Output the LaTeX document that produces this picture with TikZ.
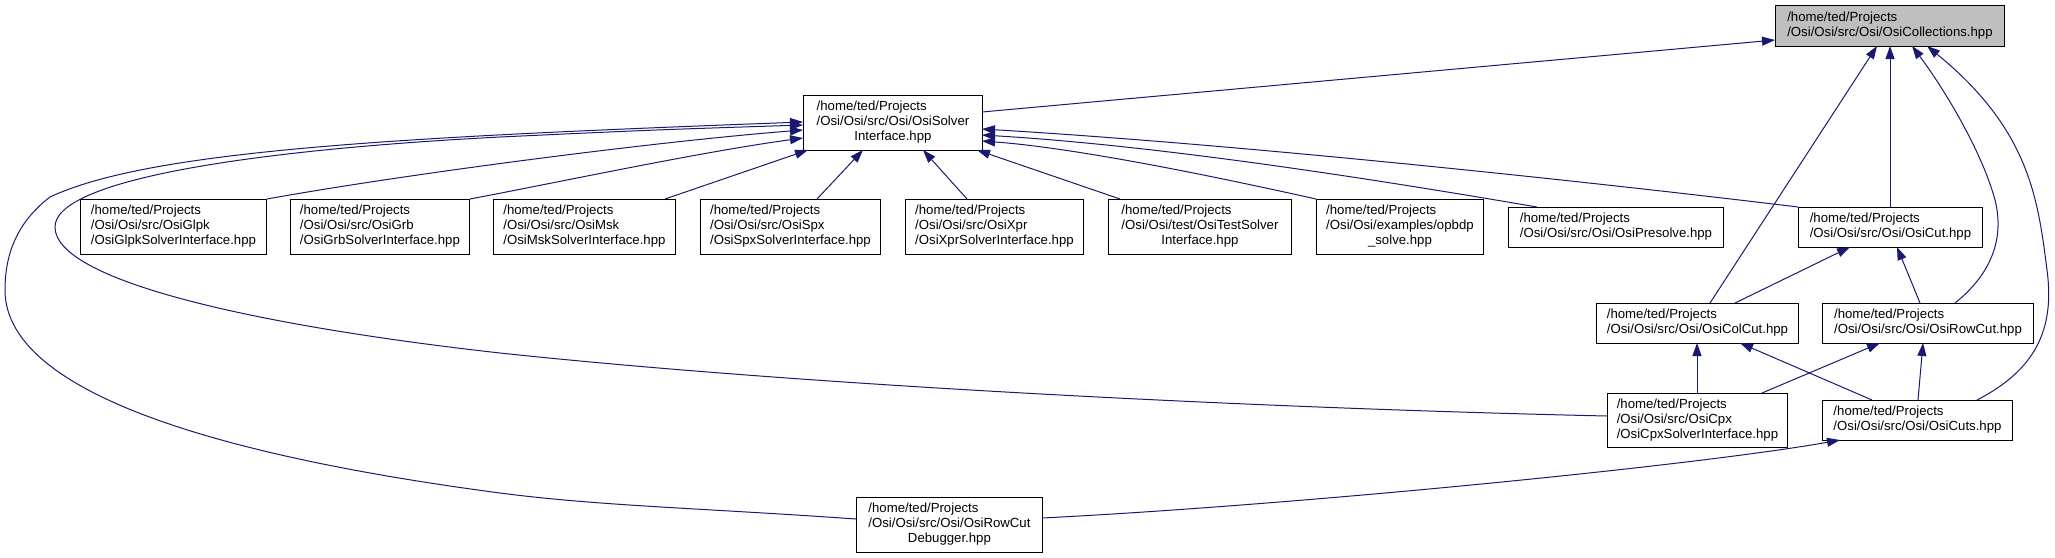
\documentclass[tikz,border=0pt]{standalone}
\usepackage{fontspec}
\setmainfont{Liberation Sans}
\usetikzlibrary{arrows.meta,calc}
\definecolor{edgeblue}{HTML}{191970}
\definecolor{rootgray}{HTML}{BFBFBF}
\newcommand{\filelines}[1]{\begin{tabular}{@{}l@{}}#1\end{tabular}}
\newcommand{\lastcentered}[1]{\multicolumn{1}{@{}c@{}}{#1}}
\begin{document}
\begin{tikzpicture}[x=1pt,y=-1pt,
  file/.style={draw=black, line width=0.9pt, fill=white, inner sep=0pt, anchor=north west,
    font=\fontsize{13.2}{15}\selectfont},
  rootfile/.style={file, fill=rootgray},
  edge/.style={draw=edgeblue, line width=1pt, -{Triangle[length=13pt,width=9pt]}}]
\useasboundingbox (0,0) rectangle (2055,557);
% nodes
\node[rootfile, minimum width=229pt, minimum height=41pt] (coll) at (1775,5)
  {\filelines{/home/ted/Projects\\/Osi/Osi/src/Osi/OsiCollections.hpp}};
\node[file, minimum width=179pt, minimum height=55pt] (si) at (803,95)
  {\filelines{/home/ted/Projects\\/Osi/Osi/src/Osi/OsiSolver\\\lastcentered{Interface.hpp}}};
\node[file, minimum width=186pt, minimum height=55pt] (glpk) at (80,199)
  {\filelines{/home/ted/Projects\\/Osi/Osi/src/OsiGlpk\\/OsiGlpkSolverInterface.hpp}};
\node[file, minimum width=179pt, minimum height=55pt] (grb) at (290,199)
  {\filelines{/home/ted/Projects\\/Osi/Osi/src/OsiGrb\\/OsiGrbSolverInterface.hpp}};
\node[file, minimum width=182pt, minimum height=55pt] (msk) at (493,199)
  {\filelines{/home/ted/Projects\\/Osi/Osi/src/OsiMsk\\/OsiMskSolverInterface.hpp}};
\node[file, minimum width=180pt, minimum height=55pt] (spx) at (700,199)
  {\filelines{/home/ted/Projects\\/Osi/Osi/src/OsiSpx\\/OsiSpxSolverInterface.hpp}};
\node[file, minimum width=178pt, minimum height=55pt] (xpr) at (905,199)
  {\filelines{/home/ted/Projects\\/Osi/Osi/src/OsiXpr\\/OsiXprSolverInterface.hpp}};
\node[file, minimum width=183pt, minimum height=55pt] (test) at (1108,199)
  {\filelines{/home/ted/Projects\\/Osi/Osi/test/OsiTestSolver\\\lastcentered{Interface.hpp}}};
\node[file, minimum width=167pt, minimum height=55pt] (opbdp) at (1316,199)
  {\filelines{/home/ted/Projects\\/Osi/Osi/examples/opbdp\\\lastcentered{\_solve.hpp}}};
\node[file, minimum width=215pt, minimum height=40pt] (presolve) at (1508,207)
  {\filelines{/home/ted/Projects\\/Osi/Osi/src/Osi/OsiPresolve.hpp}};
\node[file, minimum width=184pt, minimum height=40pt] (cut) at (1798,207)
  {\filelines{/home/ted/Projects\\/Osi/Osi/src/Osi/OsiCut.hpp}};
\node[file, minimum width=202pt, minimum height=40pt] (colcut) at (1596,303)
  {\filelines{/home/ted/Projects\\/Osi/Osi/src/Osi/OsiColCut.hpp}};
\node[file, minimum width=211pt, minimum height=40pt] (rowcut) at (1822,303)
  {\filelines{/home/ted/Projects\\/Osi/Osi/src/Osi/OsiRowCut.hpp}};
\node[file, minimum width=180pt, minimum height=54pt] (cpx) at (1607,393)
  {\filelines{/home/ted/Projects\\/Osi/Osi/src/OsiCpx\\/OsiCpxSolverInterface.hpp}};
\node[file, minimum width=190pt, minimum height=40pt] (cuts) at (1822,400)
  {\filelines{/home/ted/Projects\\/Osi/Osi/src/Osi/OsiCuts.hpp}};
\node[file, minimum width=186pt, minimum height=55pt] (dbg) at (856,497)
  {\filelines{/home/ted/Projects\\/Osi/Osi/src/Osi/OsiRowCut\\\lastcentered{Debugger.hpp}}};
% edges into OsiCollections
\draw[edge] ($(si.north west)+(179,17)$) -- ($(coll.north west)+(0,35)$);
\draw[edge] ($(colcut.north west)+(114,0)$) -- ($(coll.north west)+(102,41)$);
\draw[edge] ($(cut.north west)+(92,0)$) -- ($(coll.north west)+(115,41)$);
\draw[edge] ($(rowcut.north west)+(133,0)$) .. controls (1990,275) and (2005,240) .. (1995,200)
  .. controls (1982,152) and (1945,90) .. ($(coll.north west)+(137,41)$);
\draw[edge] ($(cuts.north west)+(155,0)$) .. controls (2035,370) and (2055,330) .. (2047,270)
  .. controls (2038,200) and (2030,130) .. ($(coll.north west)+(152,41)$);
% edges into OsiSolverInterface
\draw[edge] (glpk.north east) .. controls (400,175) and (650,142) .. ($(si.north west)+(0,35)$);
\draw[edge] (grb.north east) .. controls (560,182) and (700,152) .. ($(si.north west)+(0,43)$);
\draw[edge] ($(msk.north west)+(172,0)$) -- ($(si.north west)+(5,55)$);
\draw[edge] ($(spx.north west)+(117,0)$) -- ($(si.north west)+(60,55)$);
\draw[edge] ($(xpr.north west)+(62,0)$) -- ($(si.north west)+(120,55)$);
\draw[edge] ($(test.north west)+(12,0)$) -- ($(si.north west)+(174,55)$);
\draw[edge] (opbdp.north west) .. controls (1150,162) and (1050,146) .. ($(si.north west)+(179,46)$);
\draw[edge] ($(presolve.north west)+(29,0)$) .. controls (1350,175) and (1150,145) .. ($(si.north west)+(179,40)$);
\draw[edge] (cut.north west) .. controls (1600,183) and (1250,145) .. ($(si.north west)+(179,34)$);
\draw[edge] ($(cpx.north west)+(0,23)$) .. controls (1250,408) and (800,385) .. (500,353)
  .. controls (250,325) and (55,280) .. (55,227)
  .. controls (55,180) and (250,150) .. (500,137)
  .. controls (650,130) .. ($(si.north west)+(0,30)$);
\draw[edge] ($(dbg.north west)+(0,22)$) .. controls (700,508) and (600,506) .. (500,493)
  .. controls (250,460) and (5,400) .. (5,290)
  .. controls (5,250) and (20,220) .. (50,197)
  .. controls (150,150) and (400,137) .. ($(si.north west)+(0,27)$);
% edges into OsiCut
\draw[edge] ($(colcut.north west)+(139,0)$) -- ($(cut.north west)+(52,40)$);
\draw[edge] ($(rowcut.north west)+(98,0)$) -- ($(cut.north west)+(99,40)$);
% edges into OsiColCut / OsiRowCut
\draw[edge] ($(cpx.north west)+(90,0)$) -- ($(colcut.north west)+(101,40)$);
\draw[edge] ($(cpx.north west)+(155,0)$) -- ($(rowcut.north west)+(58,40)$);
\draw[edge] ($(cuts.north west)+(50,0)$) -- ($(colcut.north west)+(144,40)$);
\draw[edge] ($(cuts.north west)+(96,0)$) -- ($(rowcut.north west)+(101,40)$);
% edge into OsiCuts
\draw[edge] ($(dbg.north west)+(186,21)$) .. controls (1300,505) and (1700,465) .. ($(cuts.north west)+(18,40)$);
\end{tikzpicture}
\end{document}
